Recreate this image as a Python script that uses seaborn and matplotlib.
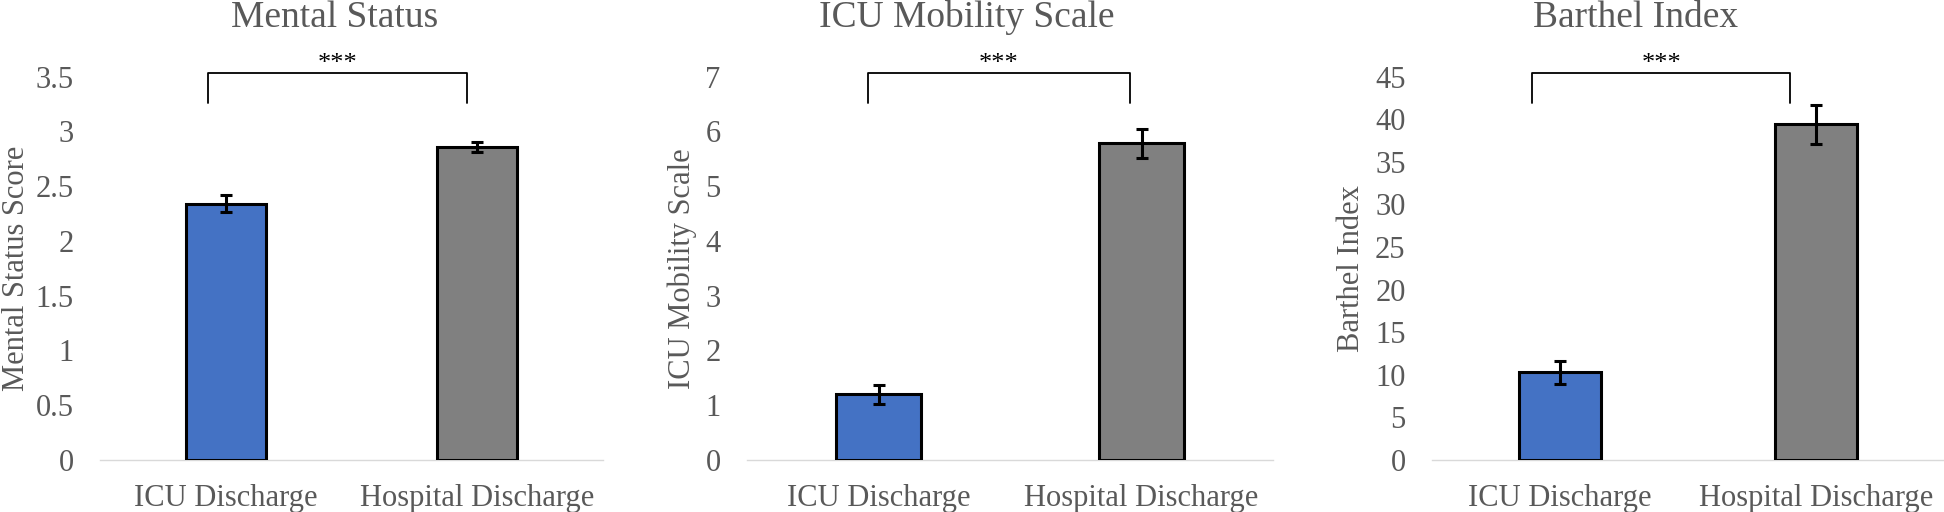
import matplotlib
matplotlib.use("Agg")
import matplotlib.pyplot as plt
import matplotlib.transforms as mtransforms
import seaborn as sns
import pandas as pd

# ---- data ----
categories = ["ICU Discharge", "Hospital Discharge"]
titles = ["Mental Status", "ICU Mobility Scale", "Barthel Index"]
ylabels = ["Mental Status Score", "ICU Mobility Scale", "Barthel Index"]
mental_means = [2.34, 2.86]
mental_err = [0.08, 0.045]
mobility_means = [1.20, 5.78]
mobility_err = [0.17, 0.27]
barthel_means = [10.3, 39.4]
barthel_err = [1.35, 2.3]
yticks_mental = [0, 0.5, 1, 1.5, 2, 2.5, 3, 3.5]
yticks_mobility = [0, 1, 2, 3, 4, 5, 6, 7]
yticks_barthel = [0, 5, 10, 15, 20, 25, 30, 35, 40, 45]
sig_label = "***"

means = [mental_means, mobility_means, barthel_means]
errs = [mental_err, mobility_err, barthel_err]
yticks_all = [yticks_mental, yticks_mobility, yticks_barthel]

sns.set_theme(style="white")
plt.rcParams["font.family"] = ["Liberation Serif", "DejaVu Serif"]

W, H = 1944, 512
fig = plt.figure(figsize=(W / 100, H / 100), dpi=100)

gray_text = "#595959"
colors = ["#4472C4", "#808080"]

# axes rectangles in pixels (left, right)
ax_px = [(100, 603), (747, 1273), (1432, 1944)]
bottom_px, top_px = 460, 76.5
title_cx = [335, 967, 1636]
bracket_dx = [(-0.07, -0.04), (-0.04, -0.045), (-0.11, -0.10)]
ylabel_x_px = [31, 697, 1366]

for i in range(3):
    l, r = ax_px[i]
    ax = fig.add_axes([l / W, (H - bottom_px) / H, (r - l) / W, (bottom_px - top_px) / H])
    df = pd.DataFrame({"cat": categories, "val": means[i]})
    sns.barplot(data=df, x="cat", y="val", hue="cat", palette=colors, legend=False,
                saturation=1, width=0.32, edgecolor="black", linewidth=2.2, ax=ax, zorder=2)
    ax.errorbar(range(len(categories)), means[i], yerr=errs[i], fmt="none",
                ecolor="black", elinewidth=2.2, capsize=4.3, capthick=2.2, zorder=3)
    yt = yticks_all[i]
    ax.set_ylim(0, yt[-1])
    ax.set_xlim(-0.5, 1.5)
    ax.set_yticks(yt)
    ax.set_yticklabels([f"{v:g}" for v in yt])
    ax.tick_params(axis="y", length=0, pad=19, labelsize=22, labelcolor=gray_text)
    ax.tick_params(axis="x", length=0, pad=17, labelsize=22, labelcolor=gray_text)
    for s in ["top", "right", "left"]:
        ax.spines[s].set_visible(False)
    ax.spines["bottom"].set_color("#d9d9d9")
    ax.spines["bottom"].set_linewidth(1.0)
    ax.spines["bottom"].set_zorder(1)
    ax.set_xlabel("")
    ax.set_ylabel(ylabels[i], fontsize=22, color=gray_text)
    ax.yaxis.set_label_coords((ylabel_x_px[i] - l) / (r - l), 0.5)
    ax.grid(False)

    # significance bracket
    h = bottom_px - top_px
    y_top = 1 + 3.5 / h
    y_bot = 1 - 26.5 / h
    trans = mtransforms.blended_transform_factory(ax.transData, ax.transAxes)
    x0 = 0 + bracket_dx[i][0]
    x1 = 1 + bracket_dx[i][1]
    ax.plot([x0, x0, x1, x1], [y_bot, y_top, y_top, y_bot], color="black",
            lw=1.3, transform=trans, clip_on=False)
    ax.text((x0 + x1) / 2, 1 + 6 / h, sig_label, transform=trans, ha="center",
            va="baseline", fontsize=19, color="black")

    fig.text(title_cx[i] / W, (H - 27) / H, titles[i], ha="center", va="baseline",
             fontsize=27, color=gray_text)

fig.savefig("out.png", dpi=100)
